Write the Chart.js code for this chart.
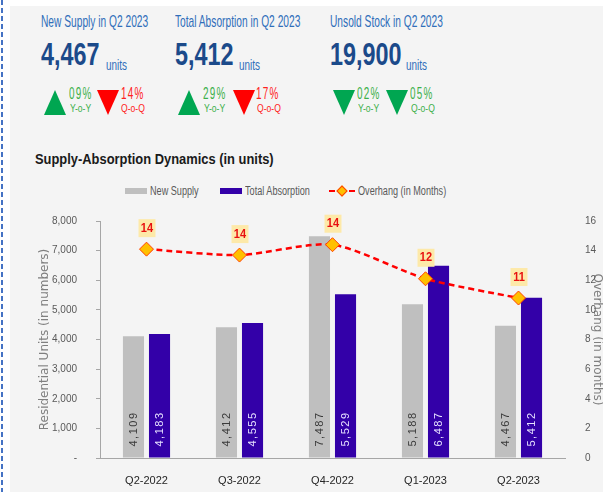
<!DOCTYPE html>
<html>
<head>
<meta charset="utf-8">
<script src="https://cdn.jsdelivr.net/npm/chart.js@4.4.0/dist/chart.umd.min.js"></script>
<style>
  html, body { margin: 0; padding: 0; background: #fff; overflow: hidden; width: 603px; height: 492px; }
  .dash { position: absolute; left: 1px; top: 0; width: 2px; height: 492px;
    background: repeating-linear-gradient(to bottom, #4472c4 0 5px, transparent 5px 8px); }
  .panel { position: absolute; left: 10px; top: 6px; width: 593px; height: 486px; background: #f4f4f4; }
  .t { position: absolute; white-space: nowrap; font-family: "Liberation Sans", Arial, sans-serif; transform-origin: left top; }
  .sub { font-size: 17px; color: #2f6eba; top: 12px; transform: scaleX(0.6); }
  .big { font-size: 32px; font-weight: bold; color: #1b4a8a; top: 36px; transform: scaleX(0.73); }
  .units { font-size: 15px; color: #2f6eba; top: 56px; transform: scaleX(0.66); }
  .tri { position: absolute; width: 0; height: 0; border-left: 11px solid transparent; border-right: 11px solid transparent; }
  .up { border-bottom: 25px solid #00a651; top: 90px; }
  .down { border-top: 25px solid #00a651; top: 90px; }
  .red { border-top-color: #ff0000; }
  .pct { top: 85px; font-size: 16px; letter-spacing: 2px; color: #3cb04a; transform: scaleX(0.62); }
  .lbl { top: 102px; font-size: 11px; color: #3cb04a; transform: scaleX(0.78); }
  .r { color: #ff2020; }
  .title { left: 35px; top: 150px; font-weight: bold; font-size: 15px; color: #1a1a1a; transform: scaleX(0.86); }
  .leg { top: 184px; font-size: 12px; color: #595959; transform: scaleX(0.76); }
  .box { position: absolute; }
  .wrap { position: absolute; left: 0; top: 196px; width: 620px; height: 296px; }
</style>
</head>
<body>
<div class="dash"></div>
<div class="panel"></div>

<div class="t sub" style="left:41px">New Supply in Q2 2023</div>
<div class="t sub" style="left:175px">Total Absorption in Q2 2023</div>
<div class="t sub" style="left:330px">Unsold Stock in Q2 2023</div>

<div class="t big" style="left:41px">4,467</div><div class="t units" style="left:106px">units</div>
<div class="t big" style="left:175px">5,412</div><div class="t units" style="left:239px">units</div>
<div class="t big" style="left:330px">19,900</div><div class="t units" style="left:406px">units</div>

<div class="tri up" style="left:44px"></div>
<div class="t pct" style="left:69px">09%</div><div class="t lbl" style="left:70px">Y-o-Y</div>
<div class="tri down red" style="left:97px"></div>
<div class="t pct r" style="left:121px">14%</div><div class="t lbl r" style="left:121px">Q-o-Q</div>

<div class="tri up" style="left:178px"></div>
<div class="t pct" style="left:203px">29%</div><div class="t lbl" style="left:204px">Y-o-Y</div>
<div class="tri down red" style="left:233px"></div>
<div class="t pct r" style="left:256px">17%</div><div class="t lbl r" style="left:257px">Q-o-Q</div>

<div class="tri down" style="left:333px"></div>
<div class="t pct" style="left:357px">02%</div><div class="t lbl" style="left:358px">Y-o-Y</div>
<div class="tri down" style="left:386px"></div>
<div class="t pct" style="left:410px">05%</div><div class="t lbl" style="left:411px">Q-o-Q</div>

<div class="t title">Supply-Absorption Dynamics (in units)</div>

<div class="box" style="left:125px;top:188px;width:22px;height:6px;background:#bfbfbf"></div>
<div class="t leg" style="left:150px">New Supply</div>
<div class="box" style="left:220px;top:188px;width:22px;height:6px;background:#3300a8"></div>
<div class="t leg" style="left:245px">Total Absorption</div>
<div class="box" style="left:329px;top:190px;width:26px;height:0;border-top:2px dashed #ff0000"></div>
<div class="box" style="left:338px;top:187px;width:6px;height:6px;background:#ffc000;border:1px solid #ff4000;transform:rotate(45deg)"></div>
<div class="t leg" style="left:358px">Overhang (in Months)</div>

<div class="wrap"><canvas id="chart"></canvas></div>

<script>
const quarters = ["Q2-2022", "Q3-2022", "Q4-2022", "Q1-2023", "Q2-2023"];
const newSupply = [4109, 4412, 7487, 5188, 4467];
const totalAbsorption = [4183, 4555, 5529, 6487, 5412];
const overhang = [14.1, 13.7, 14.4, 12.1, 10.8];

const unitTicks = [0, 1000, 2000, 3000, 4000, 5000, 6000, 7000, 8000];
const monthTicks = [0, 2, 4, 6, 8, 10, 12, 14, 16];

const sans = '"Liberation Sans", Arial, sans-serif';

// vertical value labels inside bars + yellow boxes above the line points
const labelPlugin = {
  id: "labels",
  afterDatasetsDraw(chart) {
    const ctx = chart.ctx;
    [0, 1].forEach((i) => {
      const meta = chart.getDatasetMeta(i);
      const ds = chart.data.datasets[i];
      meta.data.forEach((bar, j) => {
        ctx.save();
        ctx.translate(bar.x, bar.base - 11);
        ctx.rotate(-Math.PI / 2);
        ctx.font = "11px " + sans;
        ctx.letterSpacing = "1.5px";
        ctx.fillStyle = i === 0 ? "#3a3a3a" : "#e6e0ff";
        ctx.textAlign = "left";
        ctx.textBaseline = "middle";
        ctx.fillText(ds.data[j].toLocaleString("en-US"), 0, 0);
        ctx.restore();
      });
    });
    const lineMeta = chart.getDatasetMeta(2);
    lineMeta.data.forEach((pt, j) => {
      const txt = String(Math.round(overhang[j]));
      ctx.save();
      ctx.fillStyle = "#fde9a9";
      ctx.fillRect(pt.x - 8, pt.y - 30, 17, 18);
      ctx.translate(pt.x + 0.5, pt.y - 21);
      ctx.scale(0.85, 1);
      ctx.font = "bold 13px " + sans;
      ctx.fillStyle = "#e81010";
      ctx.textAlign = "center";
      ctx.textBaseline = "middle";
      ctx.fillText(txt, 0, 0);
      ctx.restore();
    });
  },
};

new Chart(document.getElementById("chart"), {
  type: "bar",
  data: {
    labels: quarters,
    datasets: [
      {
        label: "New Supply",
        data: newSupply,
        backgroundColor: "#bfbfbf",
        categoryPercentage: 0.56,
        barPercentage: 0.81,
        order: 2,
      },
      {
        label: "Total Absorption",
        data: totalAbsorption,
        backgroundColor: "#3300a8",
        categoryPercentage: 0.56,
        barPercentage: 0.81,
        order: 2,
      },
      {
        type: "line",
        label: "Overhang (in Months)",
        data: overhang,
        yAxisID: "y1",
        borderColor: "#ff0000",
        borderWidth: 2.5,
        borderDash: [6, 4],
        tension: 0.25,
        pointStyle: "rectRot",
        pointRadius: 7,
        pointBackgroundColor: "#ffc000",
        pointBorderColor: "#ff4000",
        pointBorderWidth: 1,
        order: 0,
      },
    ],
  },
  options: {
    responsive: true,
    maintainAspectRatio: false,
    animation: false,
    layout: { padding: { top: 21, left: 0, right: 0, bottom: 0 } },
    plugins: { legend: { display: false }, tooltip: { enabled: false } },
    scales: {
      x: {
        grid: { display: false },
        border: { display: true, color: "#a6a6a6" },
        ticks: { color: "#262626", font: { family: sans, size: 11 }, padding: 8 },
        afterFit: (s) => { s.height = 34; },
      },
      y: {
        position: "left",
        min: 0,
        max: 8000,
        afterBuildTicks: (s) => { s.ticks = unitTicks.map((v) => ({ value: v })); },
        grid: { drawOnChartArea: false, drawTicks: true, tickLength: 4, color: "#a6a6a6" },
        border: { display: true, color: "#a6a6a6" },
        ticks: {
          color: "#595959",
          font: { family: sans, size: 10 },
          padding: 19,
          callback: (v) => (v === 0 ? "-" : v.toLocaleString("en-US")),
        },
        title: {
          display: true,
          text: "Residential Units (in numbers)",
          color: "#7f7f7f",
          font: { family: '"DejaVu Sans", sans-serif', size: 12 },
          padding: { top: 38, bottom: 0 },
        },
        afterFit: (s) => { s.width = 100; },
      },
      y1: {
        position: "right",
        min: 0,
        max: 16,
        afterBuildTicks: (s) => { s.ticks = monthTicks.map((v) => ({ value: v })); },
        grid: { display: false },
        border: { display: false },
        ticks: { color: "#595959", font: { family: sans, size: 10 }, padding: 12 },
        title: {
          display: true,
          text: "Overhang (in months)",
          color: "#7f7f7f",
          font: { family: '"DejaVu Sans", sans-serif', size: 12 },
          padding: { top: 16, bottom: 0 },
        },
        afterFit: (s) => { s.width = 55; },
      },
    },
  },
  plugins: [labelPlugin],
});
</script>
</body>
</html>
